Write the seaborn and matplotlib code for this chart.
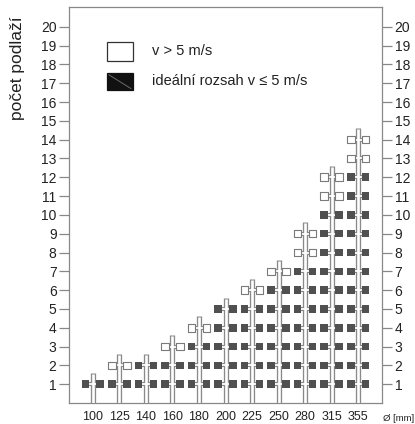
import pandas as pd
import seaborn as sns
import matplotlib.pyplot as plt
from matplotlib.patches import Rectangle

# diameters and how many floors fall into each velocity class
diameters = ['100', '125', '140', '160', '180', '200', '225', '250', '280', '315', '355']
ideal_floors = [1, 1, 2, 2, 3, 5, 5, 6, 7, 10, 12]   # v <= 5 m/s
fast_floors = [0, 1, 0, 1, 1, 0, 1, 1, 2, 2, 2]      # v > 5 m/s
y_ticks = list(range(1, 21))

legend_labels = ['v > 5 m/s', 'ideální rozsah v \u2264 5 m/s']
ylabel = 'počet podlaží'
xunit = 'Ø [mm]'

DARK = '#505050'
EDGE = '#8a8a8a'

sns.set_style('white')
plt.rcParams['font.family'] = ['Liberation Sans', 'DejaVu Sans']

# long table: one row per floor per diameter
rows = []
for i, d in enumerate(diameters):
    for f in range(1, ideal_floors[i] + 1):
        rows.append({'pos': i, 'floor': f, 'status': 'ideal'})
    for f in range(ideal_floors[i] + 1, ideal_floors[i] + fast_floors[i] + 1):
        rows.append({'pos': i, 'floor': f, 'status': 'fast'})
df = pd.DataFrame(rows)
top = df.groupby('pos')['floor'].max()

off = 0.28
df_lr = pd.concat([df.assign(x=df.pos - off), df.assign(x=df.pos + off)])

fig = plt.figure(figsize=(4.15, 4.24), dpi=100)
ax = fig.add_axes([69 / 415, 21 / 424, 313 / 415, 396 / 424])

# risers: gray outline + white core
ax.vlines(top.index, 0, top.values + 0.6, color=EDGE, lw=3.8, zorder=2)
ax.hlines(df.floor, df.pos - off, df.pos + off, color=EDGE, lw=3.0, zorder=2)
ax.vlines(top.index, 0, top.values + 0.6 - 0.05, color='white', lw=1.9, zorder=3)
ax.hlines(df.floor, df.pos - off + 0.05, df.pos + off - 0.05, color='white', lw=1.3, zorder=3)

sns.scatterplot(data=df_lr, x='x', y='floor', hue='status', marker='s', s=30,
                palette={'ideal': DARK, 'fast': 'white'}, edgecolor=None,
                legend=False, ax=ax, zorder=4)
# edges: dark squares no visible edge, white squares gray edge
coll = ax.collections[-1]
coll.set_edgecolors(['none' if s == 'ideal' else '#7a7a7a' for s in df_lr.status])
coll.set_linewidths([0 if s == 'ideal' else 0.8 for s in df_lr.status])

ax.set_xlim(-0.9, 10.9)
ax.set_ylim(0, 21.05)
ax.set_xticks(range(len(diameters)))
ax.set_xticklabels(diameters)
ax.set_yticks(y_ticks)
ax.tick_params(axis='x', length=0, pad=6, labelsize=9, colors='#222222')
ax.tick_params(axis='y', which='both', direction='out', length=7, width=0.9,
               color='#888888', labelsize=10, labelcolor='#222222', pad=2,
               left=True, right=True, labelleft=True, labelright=True)
for sp in ax.spines.values():
    sp.set_color('#888888')
    sp.set_linewidth(0.9)
ax.set_xlabel('')
ax.set_ylabel(ylabel, fontsize=12.5, color='#222222')
ax.yaxis.set_label_coords(-0.14, 0.845)

ax.text(1.003, -0.04, xunit, transform=ax.transAxes, ha='left', va='center',
        fontsize=6.8, color='#222222', clip_on=False)

# legend drawn by hand
ax.add_patch(Rectangle((0.121, 0.864), 0.083, 0.048, transform=ax.transAxes,
                       facecolor='white', edgecolor='#333333', lw=0.9, zorder=5))
ax.add_patch(Rectangle((0.121, 0.790), 0.083, 0.043, transform=ax.transAxes,
                       facecolor='#111111', edgecolor='#111111', lw=0.9, zorder=5))
ax.plot([0.127, 0.198], [0.829, 0.794], transform=ax.transAxes,
        color='#777777', lw=0.6, zorder=6)
ax.text(0.265, 0.888, legend_labels[0], transform=ax.transAxes, va='center',
        fontsize=10.5, color='#222222')
ax.text(0.265, 0.812, legend_labels[1], transform=ax.transAxes, va='center',
        fontsize=10.5, color='#222222')

fig.savefig('out.png', dpi=100)
